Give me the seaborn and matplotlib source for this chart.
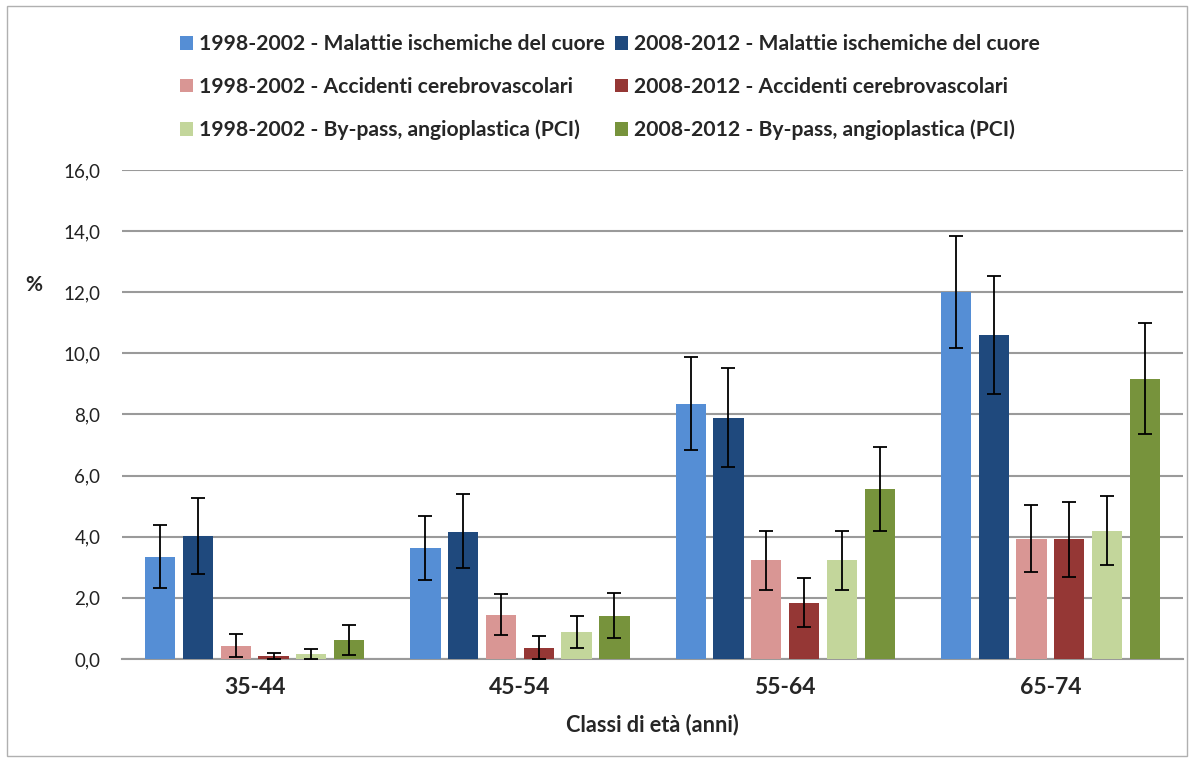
import pandas as pd
import matplotlib.pyplot as plt
import seaborn as sns
from matplotlib.patches import Rectangle

sns.set_style("white")
plt.rcParams['font.family'] = ['Lato', 'DejaVu Sans']

# Classi di eta e serie
classi = ["35-44", "45-54", "55-64", "65-74"]
serie = ["1998-2002 - Malattie ischemiche del cuore",
         "2008-2012 - Malattie ischemiche del cuore",
         "1998-2002 - Accidenti cerebrovascolari",
         "2008-2012 - Accidenti cerebrovascolari",
         "1998-2002 - By-pass, angioplastica (PCI)",
         "2008-2012 - By-pass, angioplastica (PCI)"]
colori = ["#558ED5", "#1F497D", "#D99694", "#953735", "#C3D69B", "#77933C"]

# valori (%) per serie, una lista per classe
ischemiche_98 = [3.35, 3.64, 8.34, 12.01]
ischemiche_08 = [4.01, 4.17, 7.89, 10.59]
cerebro_98 = [0.43, 1.45, 3.23, 3.94]
cerebro_08 = [0.10, 0.37, 1.84, 3.92]
pci_98 = [0.16, 0.88, 3.23, 4.20]
pci_08 = [0.62, 1.42, 5.57, 9.17]

# intervalli di confidenza (limite inferiore / superiore)
ischemiche_98_lo = [2.31, 2.60, 6.83, 10.19]
ischemiche_98_hi = [4.38, 4.69, 9.88, 13.85]
ischemiche_08_lo = [2.78, 2.97, 6.28, 8.67]
ischemiche_08_hi = [5.26, 5.40, 9.51, 12.54]
cerebro_98_lo = [0.06, 0.79, 2.26, 2.86]
cerebro_98_hi = [0.81, 2.14, 4.20, 5.05]
cerebro_08_lo = [0.00, 0.00, 1.05, 2.69]
cerebro_08_hi = [0.21, 0.75, 2.66, 5.14]
pci_98_lo = [0.00, 0.37, 2.26, 3.08]
pci_98_hi = [0.34, 1.41, 4.20, 5.33]
pci_08_lo = [0.12, 0.70, 4.20, 7.36]
pci_08_hi = [1.11, 2.15, 6.95, 11.00]

valori = [ischemiche_98, ischemiche_08, cerebro_98, cerebro_08, pci_98, pci_08]
lows = [ischemiche_98_lo, ischemiche_08_lo, cerebro_98_lo, cerebro_08_lo, pci_98_lo, pci_08_lo]
highs = [ischemiche_98_hi, ischemiche_08_hi, cerebro_98_hi, cerebro_08_hi, pci_98_hi, pci_08_hi]

rows = []
for s, vals in zip(serie, valori):
    for c, v in zip(classi, vals):
        rows.append({"classe": c, "serie": s, "valore": v})
df = pd.DataFrame(rows)

fig = plt.figure(figsize=(11.94, 7.62), dpi=100)
ax = fig.add_axes([0.1022, 0.1352, 0.8886, 0.6417])

sns.barplot(data=df, x="classe", y="valore", hue="serie", hue_order=serie,
            palette=colori, saturation=1, width=0.855, gap=0.2, errorbar=None,
            linewidth=0, ax=ax, zorder=3)

# barre di errore asimmetriche
bar_conts = list(ax.containers)
for i, cont in enumerate(bar_conts):
    for j, bar in enumerate(cont.patches):
        xc = bar.get_x() + bar.get_width() / 2
        v = valori[i][j]
        ax.errorbar(xc, v, yerr=[[v - lows[i][j]], [highs[i][j] - v]],
                    fmt="none", ecolor="black", elinewidth=1.3,
                    capsize=5, capthick=1.3, zorder=4)

ax.set_ylim(0, 16)
ax.set_yticks(range(0, 17, 2))
ax.set_yticklabels([f"{t:.1f}".replace(".", ",") for t in range(0, 17, 2)],
                   fontsize=13.5, color="#222222")
ax.set_xlim(-0.5, 3.5)
ax.tick_params(axis="x", labelsize=16.5, length=0, pad=13)
for lab in ax.get_xticklabels():
    lab.set_fontweight("bold")
ax.tick_params(axis="y", length=0, pad=15.5)
ax.yaxis.grid(True, color="#9a9a9a", linewidth=1.5, zorder=0)
ax.set_axisbelow(True)
for side in ["top", "right", "left"]:
    ax.spines[side].set_visible(False)
ax.spines["bottom"].set_color("#9a9a9a")
ax.spines["bottom"].set_linewidth(1.5)

ax.set_xlabel("Classi di età (anni)", fontsize=15.7, fontweight="bold")
ax.xaxis.set_label_coords(0.5, -0.135)
ax.xaxis.label.set_verticalalignment("center")
ax.set_ylabel("")
fig.text(0.028, 0.626, "%", fontsize=15, fontweight="bold", va="center", ha="center")

handles, labels = ax.get_legend_handles_labels()
order = [0, 2, 4, 1, 3, 5]
ax.legend([handles[k] for k in order], [labels[k] for k in order],
          ncol=2, loc="upper left", bbox_to_anchor=(0.1508, 0.955),
          bbox_transform=fig.transFigure, frameon=False,
          prop={"weight": "bold", "size": 15.2},
          handlelength=0.62, handleheight=0.62, handletextpad=0.3,
          columnspacing=0.45, labelspacing=1.08, borderaxespad=0, borderpad=0)

fig.patches.append(Rectangle((0.006, 0.008), 0.988, 0.984, transform=fig.transFigure,
                             fill=False, edgecolor="#b0b0b0", linewidth=1))

fig.savefig("out.png", dpi=100)
